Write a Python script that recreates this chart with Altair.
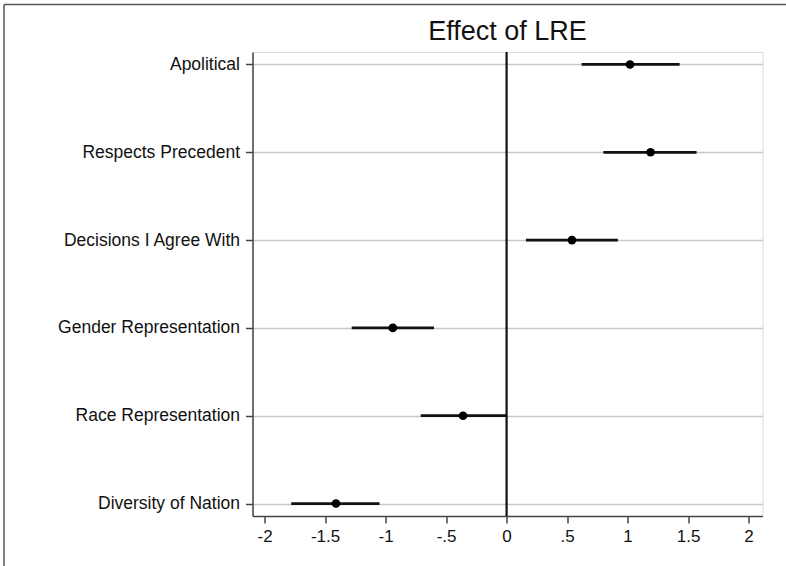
import altair as alt
import pandas as pd

labels = ["Apolitical", "Respects Precedent", "Decisions I Agree With",
          "Gender Representation", "Race Representation", "Diversity of Nation"]
estimate = [1.02, 1.19, 0.54, -0.94, -0.36, -1.41]
ci_low = [0.62, 0.80, 0.16, -1.28, -0.71, -1.78]
ci_high = [1.43, 1.57, 0.92, -0.60, 0.0, -1.05]
x_ticks = [-2, -1.5, -1, -0.5, 0, 0.5, 1, 1.5, 2]

df = pd.DataFrame({"label": labels, "est": estimate, "lo": ci_low, "hi": ci_high})

FONT = "Liberation Sans"
W, H = 510, 464

xscale = alt.Scale(domain=[-2.1, 2.115], nice=False, zero=False)
yscale = alt.Scale(type="point", domain=labels, padding=0.142)

xaxis = alt.Axis(values=x_ticks, title=None, grid=False,
                 labelExpr="replace(toString(datum.value), '0.', '.')",
                 labelFont=FONT, labelFontSize=17, labelColor="#111111",
                 labelPadding=5, tickSize=7, tickColor="#444444", tickWidth=1.5,
                 domainColor="#444444", domainWidth=1.5, labelFlush=False)
yaxis = alt.Axis(title=None, grid=True, gridColor="#c8c8c8", gridWidth=1.5,
                 labelFont=FONT, labelFontSize=17.5, labelColor="#111111",
                 labelPadding=6, tickSize=7, tickColor="#444444", tickWidth=1.5,
                 domainColor="#444444", domainWidth=1.5, labelLimit=400)

base = alt.Chart(df)

ci = base.mark_rule(color="#111111", strokeWidth=2.8).encode(
    x=alt.X("lo:Q", scale=xscale, axis=xaxis),
    x2="hi:Q",
    y=alt.Y("label:N", scale=yscale, axis=yaxis, sort=labels),
)

zero = alt.Chart(pd.DataFrame({"z": [0]})).mark_rule(color="#111111", strokeWidth=2.2).encode(
    x=alt.X("z:Q", scale=xscale)
)

pts = base.mark_circle(color="#000000", size=75, opacity=1).encode(
    x=alt.X("est:Q", scale=xscale),
    y=alt.Y("label:N", scale=yscale, sort=labels),
)

# image frame (decorative border at top and left of the figure)
frame_left = alt.Chart(pd.DataFrame({"a": [0]})).mark_rule(color="#555555", strokeWidth=1.5).encode(
    x=alt.value(-248.5), y=alt.value(-47.5), y2=alt.value(520)
)
frame_top = alt.Chart(pd.DataFrame({"a": [0]})).mark_rule(color="#555555", strokeWidth=1.5).encode(
    x=alt.value(-248.5), x2=alt.value(540), y=alt.value(-47.5)
)

chart = alt.layer(ci, zero, pts, frame_left, frame_top).properties(
    width=W, height=H,
    title=alt.TitleParams("Effect of LRE", font=FONT, fontSize=27, fontWeight="normal",
                          color="#111111", anchor="middle", offset=-42.5, frame="group"),
    autosize=alt.AutoSizeParams(type="none"),
    padding={"left": 252.5, "top": 52, "right": 23, "bottom": 50},
).configure_view(stroke=None).configure(background="white")

chart.save("out.html", embed_options={"renderer": "svg", "actions": False})
